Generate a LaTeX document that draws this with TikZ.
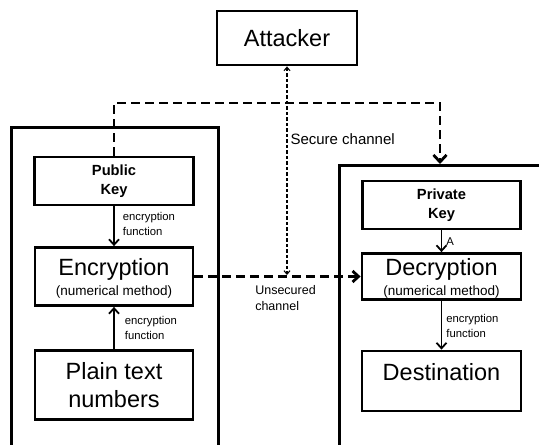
\documentclass[tikz,border=0pt]{standalone}
\usepackage{fontspec}
\setmainfont{Liberation Sans}
\usetikzlibrary{arrows.meta}
\begin{document}
\begin{tikzpicture}[x=1pt,y=-1pt,
  box/.style={draw, line width=2.8pt, inner sep=0pt, align=center},
  big/.style={font=\fontsize{23.5}{28.5}\selectfont},
  keyfont/.style={font=\bfseries\fontsize{14.7}{19}\selectfont},
  method/.style={font=\fontsize{13.5}{20}\selectfont},
  conn/.style={line width=1.8pt, -{Straight Barb[length=5.5pt,width=10pt]}},
  thickdash/.style={line width=2.8pt, dash pattern=on 9pt off 5pt},
  thindash/.style={line width=1.1pt, dash pattern=on 3.5pt off 2pt},
  small/.style={font=\fontsize{11.3}{15}\selectfont, align=left, inner sep=0pt, anchor=west},
  chan/.style={font=\fontsize{12.5}{16}\selectfont, align=left, inner sep=0pt},
]
\useasboundingbox (0,0) rectangle (539,445);
\begin{scope}
  \clip (0,0) rectangle (539,445);
  \node[box, minimum width=207pt, minimum height=340pt, anchor=north west] (lo) at (10,126) {};
  \node[box, minimum width=230pt, minimum height=310pt, anchor=north west] (ro) at (338,164) {};
\end{scope}

\node[box, big, minimum width=140pt, minimum height=54pt] (att) at (287,38) {Attacker};

\node[box, keyfont, minimum width=159pt, minimum height=48pt] (pub) at (114,181) {Public\\Key};
\node[box, method, minimum width=158pt, minimum height=58pt] (enc) at (114,276.5)
  {{\fontsize{23.5}{20}\selectfont\rule{0pt}{20pt}Encryption}\\(numerical method)};
\node[box, big, minimum width=158pt, minimum height=69pt] (plain) at (114,385) {Plain text\\numbers};

\node[box, keyfont, minimum width=158pt, minimum height=48pt] (priv) at (441.5,205) {Private\\Key};
\node[box, method, minimum width=159pt, minimum height=46pt] (dec) at (441.5,276.5)
  {{\fontsize{23.5}{20}\selectfont\rule{0pt}{21pt}Decryption}\\(numerical method)};
\node[box, minimum width=159pt, minimum height=60pt] (dest) at (441.5,381) {};
\node[big, anchor=base, inner sep=0pt] (destlabel) at (441.5,380) {Destination};

% solid connectors
\draw[conn] (pub) -- (enc)
  node[small, midway, xshift=8pt, yshift=2pt] {encryption\\function};
\draw[conn] (plain) -- (enc)
  node[small, midway, xshift=10pt, yshift=0pt] {encryption\\function};
\draw[conn] (priv) -- (dec)
  node[small, midway, xshift=4pt] {A};
\draw[conn] (dec) -- (dest)
  node[small, midway, xshift=4pt, yshift=-1pt] {encryption\\function};

% unsecured channel
\draw[thickdash, -{Straight Barb[length=6pt,width=11pt]}] (enc.east) -- (dec.west)
  node[chan, midway, anchor=north, xshift=8pt, yshift=-8pt] {Unsecured\\channel};

% attacker eavesdropping
\coordinate (tap) at (287,275);
\draw[thindash, {Straight Barb[length=3.5pt,width=6pt]}-{Straight Barb[length=3.5pt,width=6pt]}]
  (att) -- (tap)
  node[pos=0.35, anchor=west, inner sep=0pt, xshift=3pt, font=\fontsize{15}{18}\selectfont] {Secure channel};

% secure channel for keys
\coordinate (sc) at (440,103);
\draw[thickdash, -{Straight Barb[length=7pt,width=13pt]}] (pub.north) |- (sc) -- (sc |- ro.north);
\end{tikzpicture}
\end{document}
